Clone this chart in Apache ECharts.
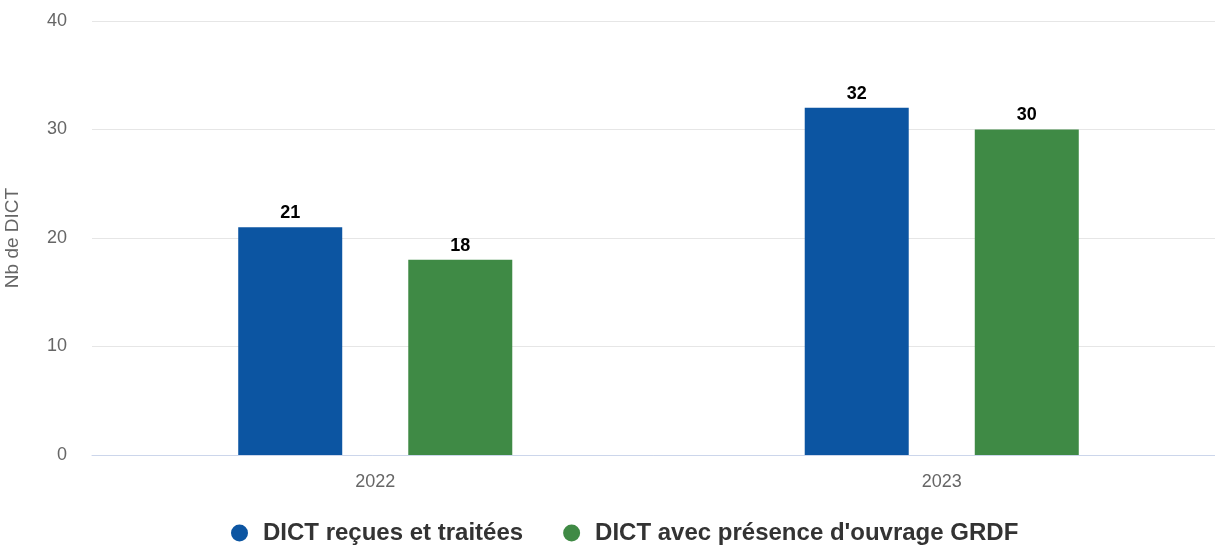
<!DOCTYPE html>
<html><head><meta charset="utf-8">
<script src="https://cdn.jsdelivr.net/npm/echarts@6/dist/echarts.min.js"></script>
<style>html,body{margin:0;padding:0;background:#fff}#c{width:1215px;height:546px}</style>
</head><body><div id="c"></div>
<script>
const categories = ['2022', '2023'];
const seriesNames = ['DICT reçues et traitées', "DICT avec présence d'ouvrage GRDF"];
const recues = [21, 32];
const presence = [18, 30];
const yTicks = [0, 10, 20, 30, 40];

const chart = echarts.init(document.getElementById('c'));
const labelStyle = {show: true, position: 'top', distance: 5, color: '#000', fontWeight: 'bold', fontSize: 18, fontFamily: 'Liberation Sans, Arial, sans-serif'};
chart.setOption({
  animation: false,
  textStyle: {fontFamily: 'Liberation Sans, Arial, sans-serif'},
  grid: {left: 92, top: 21, width: 1133, height: 434, outerBoundsMode: 'none', containLabel: false},
  legend: {
    top: 515, left: 226, icon: 'circle', itemWidth: 17, itemHeight: 17, itemGap: 40,
    textStyle: {fontSize: 24, lineHeight: 26, fontWeight: 'bold', color: '#333', padding: [0, 0, 0, 10]},
    data: seriesNames
  },
  xAxis: {
    type: 'category', data: categories,
    axisLine: {lineStyle: {color: '#ccd6eb', width: 1}},
    axisTick: {show: false},
    axisLabel: {color: '#666', fontSize: 18, margin: 18}
  },
  yAxis: {
    type: 'value', min: yTicks[0], max: yTicks[yTicks.length - 1], interval: 10,
    name: 'Nb de DICT', nameLocation: 'middle', nameRotate: 90, nameGap: 70,
    nameTextStyle: {color: '#666', fontSize: 19},
    axisLine: {show: false}, axisTick: {show: false},
    axisLabel: {color: '#666', fontSize: 18, margin: 25, padding: [3, 0, 0, 0]},
    splitLine: {lineStyle: {color: '#e6e6e6', width: 1}}
  },
  series: [
    {name: seriesNames[0], type: 'bar', data: recues, barWidth: 104, barGap: '63.5%', itemStyle: {color: '#0c55a2'}, label: labelStyle},
    {name: seriesNames[1], type: 'bar', data: presence, barWidth: 104, itemStyle: {color: '#3f8a45'}, label: labelStyle}
  ]
});
</script></body></html>
